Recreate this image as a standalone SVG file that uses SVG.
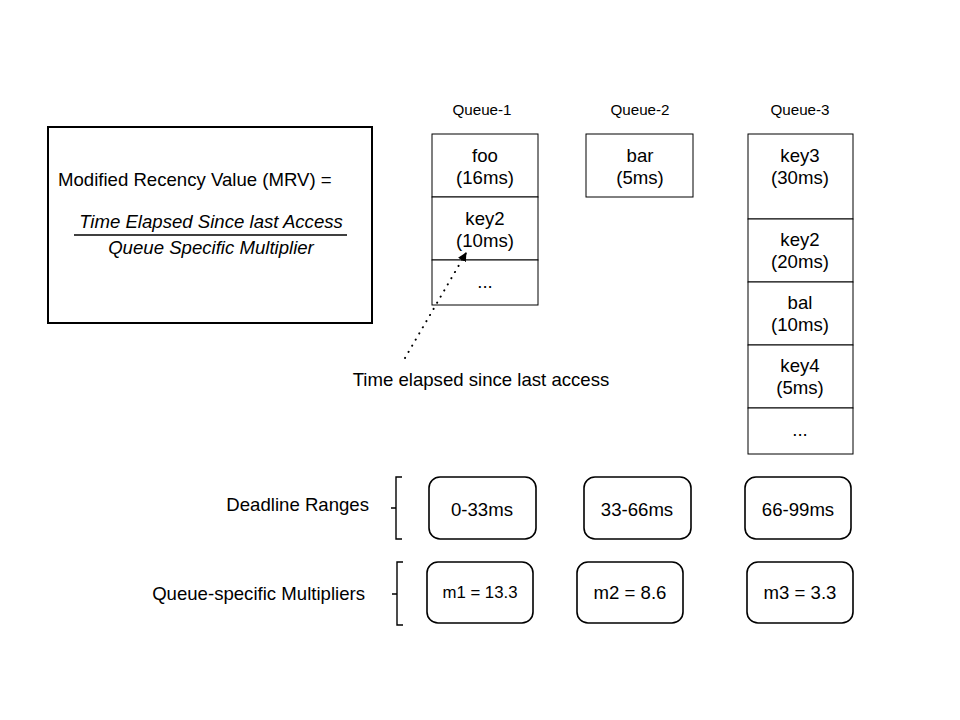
<svg xmlns="http://www.w3.org/2000/svg" width="960" height="720" viewBox="0 0 960 720">
<style>
text{font-family:"Liberation Sans",Arial,sans-serif;fill:#000}
.c{text-anchor:middle;font-size:18.6px}
.q{text-anchor:middle;font-size:15.2px}
.cell{fill:#fff;stroke:#000;stroke-width:1}
.rb{fill:#fff;stroke:#000;stroke-width:1.6}
.br{fill:none;stroke:#000;stroke-width:1.4}
</style>
<defs>
<marker id="ah" viewBox="0 0 10 10" refX="9" refY="5" markerWidth="9" markerHeight="9" markerUnits="userSpaceOnUse" orient="auto"><path d="M0,0L10,5L0,10z" fill="#000"/></marker>
</defs>
<rect width="960" height="720" fill="#fff"/>
<g id="mrv">
<rect x="48" y="127" width="324" height="196" fill="#fff" stroke="#000" stroke-width="2"/>
<text x="58" y="186" style="font-size:18.6px">Modified Recency Value (MRV) =</text>
<text x="211" y="228" class="c" font-style="italic">Time Elapsed Since last Access</text>
<line x1="74" y1="235" x2="347" y2="235" stroke="#000" stroke-width="1.5"/>
<text x="211" y="254" class="c" font-style="italic">Queue Specific Multiplier</text>
</g>
<g id="queue1">
<text x="482" y="115" class="q">Queue-1</text>
<rect class="cell" x="432" y="134" width="106" height="63"/>
<rect class="cell" x="432" y="197" width="106" height="63"/>
<rect class="cell" x="432" y="260" width="106" height="45"/>
<text x="485" y="162" class="c">foo</text><text x="485" y="184" class="c">(16ms)</text>
<text x="485" y="225" class="c">key2</text><text x="485" y="247" class="c">(10ms)</text>
<text x="485" y="288" class="c">...</text>
</g>
<g id="queue2">
<text x="640" y="115" class="q">Queue-2</text>
<rect class="cell" x="586" y="134" width="107" height="63"/>
<text x="640" y="162" class="c">bar</text><text x="640" y="184" class="c">(5ms)</text>
</g>
<g id="queue3">
<text x="800" y="115" class="q">Queue-3</text>
<rect class="cell" x="748" y="134" width="105" height="85"/>
<rect class="cell" x="748" y="219" width="105" height="63"/>
<rect class="cell" x="748" y="282" width="105" height="63"/>
<rect class="cell" x="748" y="345" width="105" height="63"/>
<rect class="cell" x="748" y="408" width="105" height="46"/>
<text x="800" y="162" class="c">key3</text><text x="800" y="184" class="c">(30ms)</text>
<text x="800" y="246" class="c">key2</text><text x="800" y="268" class="c">(20ms)</text>
<text x="800" y="309" class="c">bal</text><text x="800" y="331" class="c">(10ms)</text>
<text x="800" y="372" class="c">key4</text><text x="800" y="394" class="c">(5ms)</text>
<text x="800" y="436" class="c">...</text>
</g>
<g id="note">
<text x="481" y="386" class="c">Time elapsed since last access</text>
</g>
<g id="deadline-label">
<text x="369" y="511" style="font-size:18.6px" text-anchor="end">Deadline Ranges</text>
<path class="br" d="M402,477H396V539H402M396,508H391"/>
</g>
<g id="mult-label">
<text x="365" y="600" style="font-size:18.6px" text-anchor="end">Queue-specific Multipliers</text>
<path class="br" d="M403,562H397V625H403M397,594H392"/>
</g>
<g id="d1"><rect class="rb" x="429" y="477" width="107" height="62" rx="11"/><text x="482" y="516" class="c">0-33ms</text></g>
<g id="d2"><rect class="rb" x="584" y="477" width="107" height="62" rx="11"/><text x="637" y="516" class="c">33-66ms</text></g>
<g id="d3"><rect class="rb" x="745" y="477" width="106" height="62" rx="11"/><text x="798" y="516" class="c">66-99ms</text></g>
<g id="m1"><rect class="rb" x="427" y="562" width="106" height="61" rx="11"/><text x="480" y="598" class="c" style="font-size:16.8px">m1 = 13.3</text></g>
<g id="m2"><rect class="rb" x="577" y="562" width="106" height="61" rx="11"/><text x="630" y="599" class="c">m2 = 8.6</text></g>
<g id="m3"><rect class="rb" x="747" y="562" width="106" height="61" rx="11"/><text x="800" y="599" class="c">m3 = 3.3</text></g>
<g id="connectors">
<line x1="405" y1="358" x2="466" y2="253" stroke="#000" stroke-width="2" stroke-dasharray="0.1 7" stroke-linecap="round" marker-end="url(#ah)"/>
</g>
</svg>
